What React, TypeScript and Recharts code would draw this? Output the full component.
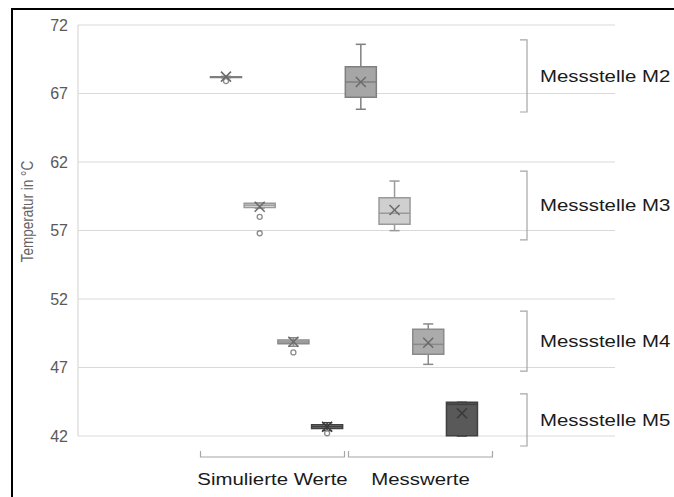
import React from 'react';
import { ComposedChart, XAxis, YAxis, CartesianGrid, ReferenceArea, ReferenceLine, Scatter } from 'recharts';

const stations = ['Messstelle M2', 'Messstelle M3', 'Messstelle M4', 'Messstelle M5'];
const groups = ['Simulierte Werte', 'Messwerte'];
const yTicks = [42, 47, 52, 57, 62, 67, 72];

// slot positions of the boxes along the x axis
const simSlots = [0, 1, 2, 3];
const measSlots = [4, 5, 6, 7];

// Simulierte Werte (M2..M5)
const simMin = [68.15, 58.62, 48.55, 42.4];
const simQ1 = [68.17, 58.67, 48.74, 42.55];
const simMedian = [68.2, 58.85, 48.86, 42.68];
const simQ3 = [68.22, 58.99, 49.0, 42.83];
const simMax = [68.25, 59.02, 49.17, 42.97];
const simMean = [68.23, 58.74, 48.88, 42.68];
const simOutliers = [[67.91], [58.0, 56.8], [48.1], [42.2]];

// Messwerte (M2..M5)
const measMin = [65.85, 56.99, 47.23, 42.0];
const measQ1 = [66.72, 57.45, 47.96, 42.02];
const measMedian = [67.84, 58.26, 48.69, 44.31];
const measQ3 = [68.96, 59.39, 49.79, 44.46];
const measMax = [70.59, 60.61, 50.18, 44.46];
const measMean = [67.84, 58.5, 48.81, 43.66];
const measOutliers: number[][] = [[], [], [], []];

// bracket annotation ranges on the right (per station)
const bracketTop = [70.91, 61.34, 51.12, 45.07];
const bracketBottom = [65.65, 56.31, 46.74, 41.27];
const bracketX = 8.93;

// group brackets under the axis (tick positions)
const groupTicks = [1.38, 5.77];

const measFills = ['#a6a6a6', '#cfcfcf', '#ababab', '#595959'];
const simFills = ['#a6a6a6', '#e4e4e4', '#d2d2d2', '#8c8c8c'];
const strokes = ['#7f7f7f', '#9a9a9a', '#8a8a8a', '#404040'];

const FONT = '"Liberation Sans", Arial, sans-serif';
const HALF = 0.46;
const CAP = 0.15;

type Box = { x: number; min: number; q1: number; med: number; q3: number; max: number; mean: number; out: number[]; s: number; fill: string };

const boxes: Box[] = [];
stations.forEach((_, s) => {
  boxes.push({ x: simSlots[s], min: simMin[s], q1: simQ1[s], med: simMedian[s], q3: simQ3[s], max: simMax[s], mean: simMean[s], out: simOutliers[s], s, fill: simFills[s] });
  boxes.push({ x: measSlots[s], min: measMin[s], q1: measQ1[s], med: measMedian[s], q3: measQ3[s], max: measMax[s], mean: measMean[s], out: measOutliers[s], s, fill: measFills[s] });
});

const meanData = boxes.map((b) => ({ x: b.x, y: b.mean, s: b.s }));
const outlierData = boxes.flatMap((b) => b.out.map((v) => ({ x: b.x, y: v, s: b.s })));

const MeanShape = (props: any) => {
  const { cx, cy, payload } = props;
  const c = payload && payload.s === 3 ? '#3a3a3a' : '#6a6a6a';
  const r = 5;
  return (
    <g>
      <line x1={cx - r} y1={cy - r} x2={cx + r} y2={cy + r} stroke={c} strokeWidth={1.5} />
      <line x1={cx - r} y1={cy + r} x2={cx + r} y2={cy - r} stroke={c} strokeWidth={1.5} />
    </g>
  );
};

const OutShape = (props: any) => {
  const { cx, cy } = props;
  return <circle cx={cx} cy={cy} r={2.5} fill="#ffffff" stroke="#8c8c8c" strokeWidth={1.3} />;
};

const GroupTick = (props: any) => {
  const { x, y, index } = props;
  const hw = 72;
  return (
    <g>
      <path d={`M${x - hw},${y + 15} L${x - hw},${y + 21} L${x + hw},${y + 21} L${x + hw},${y + 15}`} fill="none" stroke="#a6a6a6" strokeWidth={1.2} />
      <text transform={`translate(${x},${y + 49}) scale(1.2,1)`} textAnchor="middle" fontFamily={FONT} fontSize={17} fill="#1a1a1a">
        {groups[index]}
      </text>
    </g>
  );
};

const makeBracket = (label: string) => (props: any) => {
  const { x1, y1, y2 } = props;
  const top = Math.min(y1, y2);
  const bot = Math.max(y1, y2);
  return (
    <g>
      <path d={`M${x1 - 7},${top} L${x1},${top} L${x1},${bot} L${x1 - 7},${bot}`} fill="none" stroke="#a6a6a6" strokeWidth={1.2} />
      <text transform={`translate(${x1 + 13},${(top + bot) / 2 + 6}) scale(1.2,1)`} fontFamily={FONT} fontSize={17} fill="#1a1a1a">
        {label}
      </text>
    </g>
  );
};

const YTitle = (props: any) => {
  const vb = props.viewBox || { x: 0, y: 25, width: 78, height: 411 };
  const cx = vb.x + 28;
  const cy = vb.y + vb.height / 2 - 19;
  return (
    <text transform={`translate(${cx + 5},${cy}) rotate(-90) scale(1,1.25)`} textAnchor="middle" fontFamily={FONT} fontSize={13.5} fill="#626262">
      Temperatur in °C
    </text>
  );
};

export default function App() {
  return (
    <div style={{ position: 'absolute', left: 0, top: 0, width: 674, height: 497, background: '#ffffff' }}>
      <div style={{ position: 'absolute', left: 11, top: 8, width: 663, height: 2, background: '#000' }} />
      <div style={{ position: 'absolute', left: 11, top: 8, width: 2, height: 489, background: '#000' }} />
      <ComposedChart width={674} height={497} margin={{ top: 25, right: 59, bottom: 6, left: 0 }} style={{ position: 'absolute', left: 0, top: 0 }}>
        <CartesianGrid horizontal vertical={false} stroke="#d9d9d9" strokeWidth={1.2} />
        <XAxis
          type="number"
          dataKey="x"
          domain={[-4.39, 11.54]}
          allowDataOverflow
          ticks={groupTicks}
          axisLine={false}
          tickLine={false}
          tickSize={0}
          tickMargin={0}
          height={55}
          interval={0}
          tick={<GroupTick />}
        />
        <YAxis
          type="number"
          dataKey="y"
          domain={[42, 72]}
          ticks={yTicks}
          width={78}
          axisLine={{ stroke: '#d9d9d9', strokeWidth: 1.2 }}
          tickLine={false}
          tickSize={0}
          tickMargin={10}
          interval={0}
          tick={{ fill: '#595959', fontSize: 16, fontFamily: FONT }}
          label={<YTitle />}
        />
        {boxes.map((b, i) => (
          <ReferenceLine key={`wl${i}`} segment={[{ x: b.x, y: b.min }, { x: b.x, y: b.q1 }]} stroke={strokes[b.s]} strokeWidth={1.5} ifOverflow="visible" />
        ))}
        {boxes.map((b, i) => (
          <ReferenceLine key={`wh${i}`} segment={[{ x: b.x, y: b.q3 }, { x: b.x, y: b.max }]} stroke={strokes[b.s]} strokeWidth={1.5} ifOverflow="visible" />
        ))}
        {boxes.map((b, i) => (
          <ReferenceLine key={`cl${i}`} segment={[{ x: b.x - CAP, y: b.min }, { x: b.x + CAP, y: b.min }]} stroke={strokes[b.s]} strokeWidth={1.5} ifOverflow="visible" />
        ))}
        {boxes.map((b, i) => (
          <ReferenceLine key={`ch${i}`} segment={[{ x: b.x - CAP, y: b.max }, { x: b.x + CAP, y: b.max }]} stroke={strokes[b.s]} strokeWidth={1.5} ifOverflow="visible" />
        ))}
        {boxes.map((b, i) => (
          <ReferenceArea key={`b${i}`} x1={b.x - HALF} x2={b.x + HALF} y1={b.q1} y2={b.q3} fill={b.fill} fillOpacity={1} stroke={strokes[b.s]} strokeWidth={1.5} ifOverflow="visible" />
        ))}
        {boxes.map((b, i) => (
          <ReferenceLine key={`m${i}`} segment={[{ x: b.x - HALF, y: b.med }, { x: b.x + HALF, y: b.med }]} stroke={strokes[b.s]} strokeWidth={1.5} ifOverflow="visible" />
        ))}
        {stations.map((st, s) => (
          <ReferenceLine
            key={`br${s}`}
            segment={[{ x: bracketX, y: bracketTop[s] }, { x: bracketX, y: bracketBottom[s] }]}
            ifOverflow="visible"
            stroke="#a6a6a6"
            shape={makeBracket(st)}
          />
        ))}
        <Scatter data={outlierData} shape={<OutShape />} isAnimationActive={false} />
        <Scatter data={meanData} shape={<MeanShape />} isAnimationActive={false} />
      </ComposedChart>
    </div>
  );
}
